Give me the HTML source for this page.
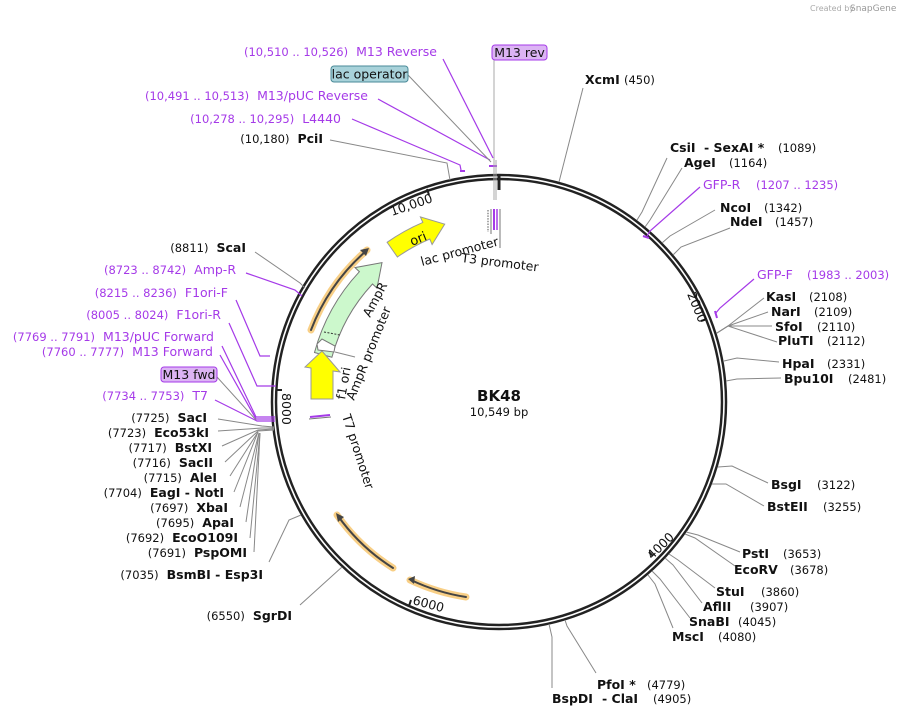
<!DOCTYPE html>
<html><head><meta charset="utf-8"><style>
html,body{margin:0;padding:0;background:#fff;}
svg{display:block;font-family:"DejaVu Sans","Liberation Sans",sans-serif;}
.n{font-size:11.5px;fill:#111;}
.b{font-size:12.5px;font-weight:bold;fill:#111;}
.p{font-size:11.5px;fill:#a53ae8;}
.pn{font-size:12.5px;fill:#a53ae8;}
.g{stroke:#888;stroke-width:1;fill:none;}
.pl{stroke:#a53ae8;stroke-width:1.2;fill:none;}
.f{font-size:12.5px;fill:#111;}
</style></head><body>
<svg width="908" height="717" viewBox="0 0 908 717" xmlns="http://www.w3.org/2000/svg">
<text x="810" y="11" font-size="8" fill="#aaa">Created by</text>
<text x="850" y="11" font-size="9" fill="#999">SnapGene</text>

<circle cx="499" cy="402" r="225" fill="none" stroke="#222" stroke-width="6.5"/>
<circle cx="499" cy="402" r="225" fill="none" stroke="#fff" stroke-width="1.6"/>
<line x1="499" y1="174" x2="499" y2="190" stroke="#222" stroke-width="3"/>
<line x1="707" y1="319" x2="701" y2="321" stroke="#222" stroke-width="2"/>
<line x1="653" y1="556" x2="649" y2="552" stroke="#222" stroke-width="2"/>
<line x1="409" y1="606" x2="411" y2="600" stroke="#222" stroke-width="2"/>
<line x1="276" y1="390" x2="282" y2="390" stroke="#222" stroke-width="2"/>
<line x1="427" y1="189" x2="429" y2="195" stroke="#222" stroke-width="2"/>
<text transform="translate(392,216) rotate(-19)" class="f">10,000</text>
<text transform="translate(687,294) rotate(68)" class="f">2000</text>
<text transform="translate(652,560) rotate(-44)" class="f">4000</text>
<text transform="translate(412,604) rotate(15)" class="f">6000</text>
<text transform="translate(282,393) rotate(90)" class="f">8000</text>

<text x="499" y="401" text-anchor="middle" font-size="15" font-weight="bold" fill="#111">BK48</text>
<text x="499" y="416" text-anchor="middle" font-size="11.5" fill="#111">10,549 bp</text>

<g fill="none" stroke-linecap="round">
<path d="M311 330 A201 201 0 0 1 367 250" stroke="#f8cf86" stroke-width="7"/>
<path d="M311 330 A201 201 0 0 1 366 251" stroke="#444" stroke-width="2"/>
<path d="M393 568 A197 197 0 0 1 337 515" stroke="#f8cf86" stroke-width="7"/>
<path d="M393 568 A197 197 0 0 1 338 516" stroke="#444" stroke-width="2"/>
<path d="M466 597 A198 198 0 0 1 410 580" stroke="#f8cf86" stroke-width="7"/>
<path d="M466 597 A198 198 0 0 1 411 580" stroke="#444" stroke-width="2"/>
</g>
<polygon points="369,248 360,250 366,256" fill="#444"/>
<polygon points="336,513 338,522 344,517" fill="#444"/>
<polygon points="408,579 415,576 414,584" fill="#444"/>

<path d="M314.5 352.5 A191 191 0 0 1 359.4 271.7 L355 267.6 L382 262.6 L377 288.1 L372.5 284 A173 173 0 0 0 331.9 357.2 Z" fill="#ccf8cc" stroke="#777" stroke-width="1"/>
<line x1="324" y1="332" x2="340" y2="335" stroke="#333" stroke-dasharray="2,1.5"/>
<path d="M387.1 242.3 A195 195 0 0 1 422.8 222.4 L420.4 216.9 L444.7 224.2 L432.1 244.5 L429.8 239 A177 177 0 0 0 397.4 257 Z" fill="#ffff00" stroke="#999" stroke-width="1"/>
<text transform="translate(412,246) rotate(-22)" font-size="13" fill="#111">ori</text>
<path d="M311 399 L333 399 L333 371 L340 372 L322 351 L305 367 L311 368 Z" fill="#ffff00" stroke="#999" stroke-width="1"/>
<path d="M318 350 L334 352 L335 346 L322 339 L317 344 Z" fill="#fff" stroke="#777" stroke-width="1"/>
<line x1="335" y1="352" x2="355" y2="357" class="g"/>
<line x1="310" y1="417" x2="330" y2="415" stroke="#a53ae8" stroke-width="2"/>
<line x1="309" y1="419" x2="331" y2="417" stroke="#777" stroke-width="1"/>
<g stroke-width="1">
<line x1="488" y1="210" x2="488" y2="232" stroke="#555" stroke-dasharray="1.5,1.2"/>
<line x1="491" y1="209" x2="491" y2="234" stroke="#777"/>
<line x1="494" y1="209" x2="494" y2="230" stroke="#a53ae8" stroke-width="2"/>
<line x1="497" y1="209" x2="497" y2="230" stroke="#a53ae8" stroke-width="1.5"/>
<line x1="500" y1="209" x2="500" y2="248" stroke="#777"/>
</g>
<text transform="translate(422,266) rotate(-15)" class="f">lac promoter</text>
<text transform="translate(461,262) rotate(7)" class="f">T3 promoter</text>
<text transform="translate(370,318) rotate(-62)" class="f">AmpR</text>
<text transform="translate(354,401) rotate(-68)" class="f">AmpR promoter</text>
<text transform="translate(345,400) rotate(-80)" class="f">f1 ori</text>
<text transform="translate(342,416) rotate(72)" class="f">T7 promoter</text>

<g class="g">
<polyline points="559,182 583,88"/>
<polyline points="637,220 642,212 667,158"/>
<polyline points="645,227 650,220 682,168"/>
<polyline points="662,243 670,236 715,210"/>
<polyline points="673,255 681,247 730,228"/>
<polyline points="717,333 728,326 764,298"/>
<polyline points="717,333 728,326 768,312"/>
<polyline points="717,333 728,326 772,326"/>
<polyline points="717,333 728,326 777,342"/>
<polyline points="724,361 737,358 779,362"/>
<polyline points="726,381 737,379 781,378"/>
<polyline points="718,467 732,466 768,483"/>
<polyline points="712,484 726,484 764,506"/>
<polyline points="686,532 698,535 740,552"/>
<polyline points="685,534 695,538 735,566"/>
<polyline points="669,554 678,560 715,588"/>
<polyline points="665,558 673,565 702,603"/>
<polyline points="652,571 660,579 690,618"/>
<polyline points="648,575 655,584 673,628"/>
<polyline points="565,620 567,626 596,673"/>
<polyline points="549,624 552,637 552,688"/>
</g>
<polyline class="pl" points="647,236 650,231 700,187"/>
<line x1="643" y1="236" x2="649" y2="238" stroke="#a53ae8" stroke-width="2"/>
<polyline class="pl" points="715,314 720,308 754,279"/>
<line x1="715" y1="311" x2="717" y2="318" stroke="#a53ae8" stroke-width="2"/>

<text x="585" y="84"><tspan class="b">XcmI</tspan><tspan class="n" x="624">(450)</tspan></text>
<text x="670" y="152"><tspan class="b">CsiI</tspan><tspan class="b" x="704">- SexAI *</tspan><tspan class="n" x="778">(1089)</tspan></text>
<text x="684" y="167"><tspan class="b">AgeI</tspan><tspan class="n" x="729">(1164)</tspan></text>
<text x="703" y="189"><tspan class="pn">GFP-R</tspan><tspan class="p" x="756">(1207 .. 1235)</tspan></text>
<text x="720" y="212"><tspan class="b">NcoI</tspan><tspan class="n" x="764">(1342)</tspan></text>
<text x="730" y="226"><tspan class="b">NdeI</tspan><tspan class="n" x="775">(1457)</tspan></text>
<text x="757" y="279"><tspan class="pn">GFP-F</tspan><tspan class="p" x="807">(1983 .. 2003)</tspan></text>
<text x="766" y="301"><tspan class="b">KasI</tspan><tspan class="n" x="809">(2108)</tspan></text>
<text x="771" y="316"><tspan class="b">NarI</tspan><tspan class="n" x="814">(2109)</tspan></text>
<text x="775" y="331"><tspan class="b">SfoI</tspan><tspan class="n" x="817">(2110)</tspan></text>
<text x="778" y="345"><tspan class="b">PluTI</tspan><tspan class="n" x="827">(2112)</tspan></text>
<text x="782" y="368"><tspan class="b">HpaI</tspan><tspan class="n" x="827">(2331)</tspan></text>
<text x="784" y="383"><tspan class="b">Bpu10I</tspan><tspan class="n" x="848">(2481)</tspan></text>
<text x="771" y="489"><tspan class="b">BsgI</tspan><tspan class="n" x="817">(3122)</tspan></text>
<text x="767" y="511"><tspan class="b">BstEII</tspan><tspan class="n" x="823">(3255)</tspan></text>
<text x="742" y="558"><tspan class="b">PstI</tspan><tspan class="n" x="783">(3653)</tspan></text>
<text x="734" y="574"><tspan class="b">EcoRV</tspan><tspan class="n" x="790">(3678)</tspan></text>
<text x="716" y="596"><tspan class="b">StuI</tspan><tspan class="n" x="761">(3860)</tspan></text>
<text x="703" y="611"><tspan class="b">AflII</tspan><tspan class="n" x="750">(3907)</tspan></text>
<text x="689" y="626"><tspan class="b">SnaBI</tspan><tspan class="n" x="738">(4045)</tspan></text>
<text x="672" y="641"><tspan class="b">MscI</tspan><tspan class="n" x="718">(4080)</tspan></text>
<text x="597" y="689"><tspan class="b">PfoI *</tspan><tspan class="n" x="647">(4779)</tspan></text>
<text x="552" y="703"><tspan class="b">BspDI</tspan><tspan class="b" x="602">- ClaI</tspan><tspan class="n" x="653">(4905)</tspan></text>

<polyline class="g" points="330,140 447,163 450,180"/>
<polyline class="pl" points="352,119 460,165 461,170"/>
<line x1="460" y1="171" x2="465" y2="171" stroke="#a53ae8" stroke-width="2"/>
<polyline class="pl" points="378,99 490,160"/>
<polyline class="g" points="408,75 491,162"/>
<polyline class="pl" points="443,59 493,158"/>
<line x1="489" y1="166" x2="497" y2="166" stroke="#a53ae8" stroke-width="2"/>
<line x1="494" y1="60" x2="494" y2="200" stroke="#aaa"/>
<line x1="496" y1="160" x2="496" y2="200" stroke="#aaa"/>
<text x="323" y="143" text-anchor="end"><tspan class="n">(10,180)</tspan><tspan class="b" dx="8">PciI</tspan></text>
<text x="341" y="123" text-anchor="end"><tspan class="p">(10,278 .. 10,295)</tspan><tspan class="pn" dx="8">L4440</tspan></text>
<text x="368" y="100" text-anchor="end"><tspan class="p">(10,491 .. 10,513)</tspan><tspan class="pn" dx="8">M13/pUC Reverse</tspan></text>
<text x="437" y="56" text-anchor="end"><tspan class="p">(10,510 .. 10,526)</tspan><tspan class="pn" dx="8">M13 Reverse</tspan></text>
<rect x="331" y="66" width="77" height="16" rx="3" fill="#a8d2da" stroke="#4a8a98"/>
<text x="369.5" y="78.5" text-anchor="middle" font-size="12.5" fill="#111">lac operator</text>
<rect x="492" y="45" width="55" height="15" rx="3" fill="#dcb4f4" stroke="#a53ae8"/>
<text x="519.5" y="57" text-anchor="middle" font-size="12.5" fill="#111">M13 rev</text>

<polyline class="g" points="255,252 300,283 305,288"/>
<polyline class="pl" points="246,273 295,290 302,296"/>
<polyline class="pl" points="236,300 260,356 270,356"/>
<polyline class="pl" points="229,323 257,386 276,386"/>
<polyline class="pl" points="222,346 256,417 275,417"/>
<polyline class="pl" points="220,355 256,419 275,419"/>
<polyline class="pl" points="215,400 257,421 275,421"/>
<polyline class="g" points="217,377 256,420"/>
<g class="g">
<polyline points="218,419 262,426 274,427"/>
<polyline points="218,431 262,428 274,428"/>
<polyline points="222,446 258,430 274,429"/>
<polyline points="225,462 258,431 274,430"/>
<polyline points="230,476 258,432"/>
<polyline points="234,492 258,432"/>
<polyline points="240,507 259,433"/>
<polyline points="246,522 259,433"/>
<polyline points="250,538 260,433"/>
<polyline points="254,552 260,433"/>
<polyline points="269,562 289,520 301,515"/>
<polyline points="300,605 342,567"/>
</g>
<text x="246" y="252" text-anchor="end"><tspan class="n">(8811)</tspan><tspan class="b" dx="8">ScaI</tspan></text>
<text x="236" y="274" text-anchor="end"><tspan class="p">(8723 .. 8742)</tspan><tspan class="pn" dx="8">Amp-R</tspan></text>
<text x="228" y="297" text-anchor="end"><tspan class="p">(8215 .. 8236)</tspan><tspan class="pn" dx="8">F1ori-F</tspan></text>
<text x="221" y="319" text-anchor="end"><tspan class="p">(8005 .. 8024)</tspan><tspan class="pn" dx="8">F1ori-R</tspan></text>
<text x="214" y="341" text-anchor="end"><tspan class="p">(7769 .. 7791)</tspan><tspan class="pn" dx="8">M13/pUC Forward</tspan></text>
<text x="213" y="356" text-anchor="end"><tspan class="p">(7760 .. 7777)</tspan><tspan class="pn" dx="8">M13 Forward</tspan></text>
<rect x="161" y="367" width="56" height="15" rx="3" fill="#dcb4f4" stroke="#a53ae8"/>
<text x="189" y="379" text-anchor="middle" font-size="12.5" fill="#111">M13 fwd</text>
<text x="208" y="400" text-anchor="end"><tspan class="p">(7734 .. 7753)</tspan><tspan class="pn" dx="8">T7</tspan></text>
<text x="207" y="422" text-anchor="end"><tspan class="n">(7725)</tspan><tspan class="b" dx="8">SacI</tspan></text>
<text x="209" y="437" text-anchor="end"><tspan class="n">(7723)</tspan><tspan class="b" dx="8">Eco53kI</tspan></text>
<text x="212" y="452" text-anchor="end"><tspan class="n">(7717)</tspan><tspan class="b" dx="8">BstXI</tspan></text>
<text x="213" y="467" text-anchor="end"><tspan class="n">(7716)</tspan><tspan class="b" dx="8">SacII</tspan></text>
<text x="217" y="482" text-anchor="end"><tspan class="n">(7715)</tspan><tspan class="b" dx="8">AleI</tspan></text>
<text x="224" y="497" text-anchor="end"><tspan class="n">(7704)</tspan><tspan class="b" dx="8">EagI  - NotI</tspan></text>
<text x="228" y="512" text-anchor="end"><tspan class="n">(7697)</tspan><tspan class="b" dx="8">XbaI</tspan></text>
<text x="234" y="527" text-anchor="end"><tspan class="n">(7695)</tspan><tspan class="b" dx="8">ApaI</tspan></text>
<text x="238" y="542" text-anchor="end"><tspan class="n">(7692)</tspan><tspan class="b" dx="8">EcoO109I</tspan></text>
<text x="247" y="557" text-anchor="end"><tspan class="n">(7691)</tspan><tspan class="b" dx="8">PspOMI</tspan></text>
<text x="263" y="579" text-anchor="end"><tspan class="n">(7035)</tspan><tspan class="b" dx="8">BsmBI  - Esp3I</tspan></text>
<text x="292" y="620" text-anchor="end"><tspan class="n">(6550)</tspan><tspan class="b" dx="8">SgrDI</tspan></text>
</svg>
</body></html>
